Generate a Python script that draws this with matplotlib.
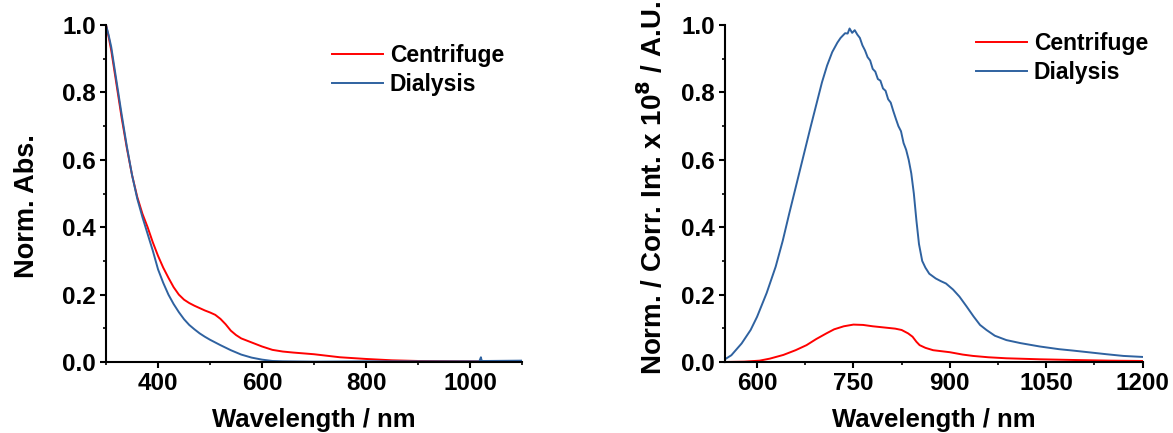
import numpy as np
import matplotlib.pyplot as plt
from matplotlib.ticker import MultipleLocator

plt.rcParams['font.family'] = ['Liberation Sans', 'DejaVu Sans']
plt.rcParams['font.weight'] = 'bold'
plt.rcParams['mathtext.default'] = 'bf'

# absorption (left)
abs_wl = [300, 305, 310, 315, 320, 325, 330, 340, 350, 360, 370, 380, 390, 400,
          410, 420, 430, 440, 450, 460, 470, 480, 490, 500, 510, 520, 530, 540,
          550, 560, 580, 600, 620, 640, 660, 700, 750, 800, 850, 900, 1000, 1100]
abs_centrifuge = [1.0, 0.965, 0.925, 0.875, 0.825, 0.775, 0.725, 0.635, 0.555, 0.49,
                  0.44, 0.40, 0.355, 0.315, 0.28, 0.25, 0.222, 0.20, 0.185, 0.175,
                  0.167, 0.16, 0.153, 0.147, 0.14, 0.128, 0.112, 0.093, 0.08, 0.07,
                  0.058, 0.046, 0.036, 0.031, 0.028, 0.023, 0.014, 0.009, 0.005,
                  0.003, 0.002, 0.001]
abs_wl_d = [300, 305, 310, 315, 320, 325, 330, 340, 350, 360, 370, 380, 390, 400,
            410, 420, 430, 440, 450, 460, 470, 480, 490, 500, 520, 540, 560, 580,
            600, 620, 640, 700, 800, 900, 1000, 1018, 1021, 1022, 1024, 1030, 1100]
abs_dialysis = [1.0, 0.97, 0.935, 0.885, 0.835, 0.785, 0.735, 0.64, 0.555, 0.485,
                0.43, 0.38, 0.33, 0.275, 0.235, 0.20, 0.172, 0.148, 0.127, 0.11,
                0.097, 0.085, 0.075, 0.066, 0.05, 0.035, 0.022, 0.013, 0.007, 0.003,
                0.002, 0.001, 0.002, 0.002, 0.002, 0.002, 0.014, 0.006, 0.003, 0.003,
                0.004]

# emission (right)
em_wl_d = [550, 560, 576, 590, 600, 615, 629, 640, 650, 661, 672, 683, 693, 701,
           709, 717, 725, 730, 733, 737, 741, 744, 748, 752, 756, 760, 764, 768,
           772, 776, 780, 784, 788, 792, 796, 800, 804, 808, 812, 816, 820, 824,
           828, 832, 836, 840, 844, 848, 852, 857, 862, 868, 878, 886, 894, 905,
           915, 926, 937, 947, 957, 970, 988, 1010, 1040, 1070, 1091, 1120, 1144,
           1170, 1200]
em_dialysis = [0.008, 0.02, 0.055, 0.095, 0.134, 0.205, 0.283, 0.36, 0.44, 0.525,
               0.61, 0.695, 0.77, 0.83, 0.88, 0.92, 0.948, 0.962, 0.968, 0.976,
               0.975, 0.99, 0.977, 0.985, 0.972, 0.962, 0.94, 0.925, 0.905, 0.895,
               0.87, 0.862, 0.84, 0.835, 0.812, 0.805, 0.78, 0.77, 0.745, 0.722,
               0.70, 0.685, 0.65, 0.63, 0.60, 0.56, 0.50, 0.42, 0.35, 0.30, 0.28,
               0.262, 0.248, 0.24, 0.233, 0.215, 0.194, 0.165, 0.135, 0.11, 0.095,
               0.078, 0.065, 0.056, 0.046, 0.038, 0.034, 0.028, 0.023, 0.018, 0.015]
em_wl_c = [550, 580, 604, 620, 641, 660, 677, 692, 708, 720, 735, 750, 765, 780,
           800, 815, 825, 835, 842, 848, 853, 862, 874, 900, 920, 936, 960, 988,
           1040, 1091, 1150, 1200]
em_centrifuge = [0.0, 0.001, 0.004, 0.01, 0.021, 0.035, 0.05, 0.068, 0.085, 0.097,
                 0.106, 0.111, 0.11, 0.106, 0.102, 0.099, 0.095, 0.085, 0.075, 0.06,
                 0.05, 0.042, 0.035, 0.029, 0.022, 0.018, 0.014, 0.011, 0.008, 0.006,
                 0.004, 0.003]

red = '#ff0000'
blue = '#2f62a0'

fig = plt.figure(figsize=(11.73, 4.33), dpi=100)
ax1 = fig.add_axes([0.0904, 0.164, 0.3546, 0.778])
ax2 = fig.add_axes([0.618, 0.164, 0.3561, 0.778])

ax1.plot(abs_wl, abs_centrifuge, color=red, lw=1.4, label='Centrifuge')
ax1.plot(abs_wl_d, abs_dialysis, color=blue, lw=1.4, label='Dialysis')
ax1.set_xlim(300, 1100)
ax1.xaxis.set_major_locator(MultipleLocator(200))
ax1.xaxis.set_minor_locator(MultipleLocator(100))
ax1.set_ylabel('Norm. Abs.', fontsize=19.5, fontweight='bold')
ax1.yaxis.set_label_coords(-0.159, 0.463)

ax2.plot(em_wl_c, em_centrifuge, color=red, lw=1.4, label='Centrifuge')
ax2.plot(em_wl_d, em_dialysis, color=blue, lw=1.4, label='Dialysis')
ax2.set_xlim(550, 1200)
ax2.xaxis.set_major_locator(MultipleLocator(150))
ax2.xaxis.set_minor_locator(MultipleLocator(75))
ax2.set_ylabel('Norm. / Corr. Int. x 10$^8$ / A.U.', fontsize=20,
               fontweight='bold')
ax2.yaxis.set_label_coords(-0.136, 0.516)

legend_pos = {ax1: (0.543, 0.943), ax2: (0.601, 0.979)}

for ax in (ax1, ax2):
    ax.set_ylim(0, 1.0)
    ax.yaxis.set_major_locator(MultipleLocator(0.2))
    ax.yaxis.set_minor_locator(MultipleLocator(0.1))
    ax.yaxis.set_major_formatter(plt.FormatStrFormatter('%.1f'))
    ax.set_xlabel('Wavelength / nm', fontsize=18.5, fontweight='bold', labelpad=9)
    for s in ('top', 'right'):
        ax.spines[s].set_visible(False)
    for s in ('left', 'bottom'):
        ax.spines[s].set_linewidth(1.5)
    ax.tick_params(which='major', direction='out', length=4.3, width=1.5,
                   labelsize=17.5, pad=3)
    ax.tick_params(which='minor', direction='out', length=2.5, width=1.2)
    ax.legend(loc='upper left', bbox_to_anchor=legend_pos[ax], frameon=False,
              fontsize=16.5, handlelength=2.23, handletextpad=0.3,
              labelspacing=0.25, borderpad=0, borderaxespad=0)

plt.savefig('out.png', dpi=100)
